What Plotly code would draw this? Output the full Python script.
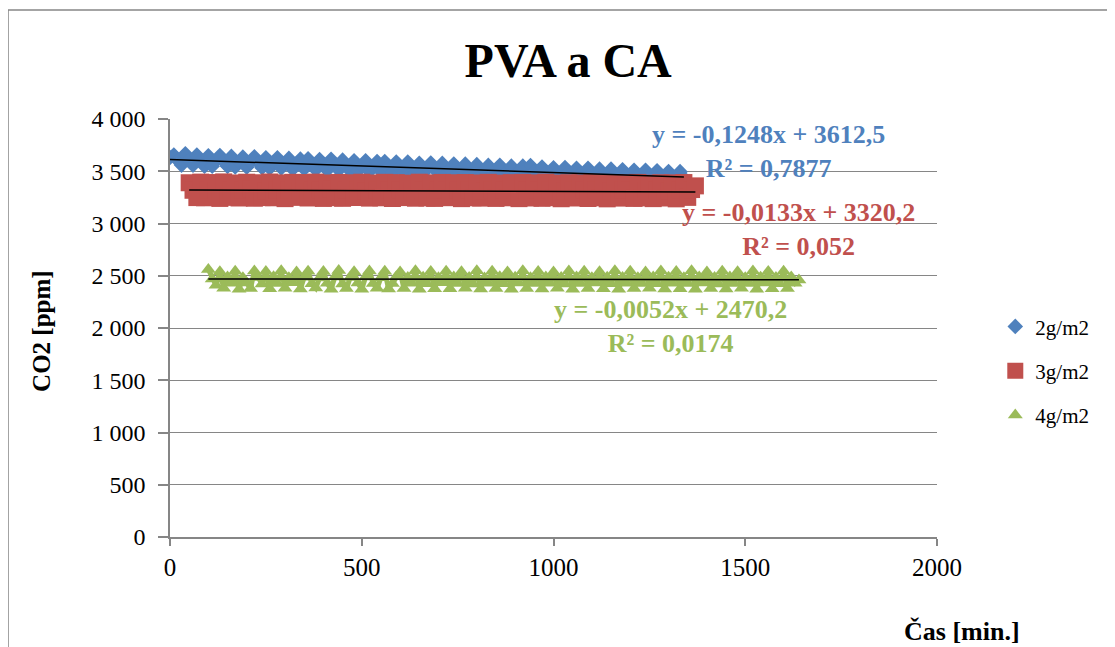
import plotly.graph_objects as go

# ---- data ----
series_names = ["2g/m2", "3g/m2", "4g/m2"]

time_2g = list(range(0, 1341, 10))
co2_2g = [3632, 3656, 3605, 3559, 3667, 3609, 3557, 3656, 3600, 3549,
          3648, 3549, 3603, 3651, 3591, 3547, 3642, 3540, 3590, 3635,
          3539, 3590, 3638, 3581, 3533, 3628, 3528, 3581, 3629, 3530,
          3574, 3623, 3520, 3576, 3616, 3521, 3620, 3564, 3515, 3612,
          3566, 3510, 3614, 3555, 3511, 3606, 3556, 3502, 3600, 3502,
          3554, 3601, 3498, 3543, 3593, 3498, 3594, 3541, 3487, 3588,
          3536, 3488, 3588, 3539, 3482, 3577, 3481, 3531, 3578, 3517,
          3528, 3575, 3471, 3520, 3569, 3469, 3522, 3568, 3467, 3512,
          3563, 3460, 3511, 3556, 3459, 3509, 3558, 3458, 3499, 3549,
          3450, 3501, 3549, 3449, 3555, 3491, 3441, 3540, 3491, 3439,
          3534, 3483, 3436, 3536, 3485, 3430, 3528, 3475, 3431, 3529,
          3475, 3424, 3520, 3469, 3418, 3520, 3471, 3418, 3514, 3463,
          3410, 3509, 3462, 3410, 3510, 3452, 3409, 3504, 3454, 3400,
          3497, 3447, 3400, 3496, 3435]

time_3g = list(range(50, 1371, 10))
co2_3g = [3390, 3318, 3248, 3396, 3246, 3324, 3392, 3316, 3240, 3398,
          3250, 3322, 3388, 3244, 3318, 3395, 3326, 3242, 3390, 3248,
          3315, 3397, 3246, 3320, 3389, 3238, 3324, 3394, 3250, 3316,
          3392, 3244, 3322, 3396, 3318, 3240, 3388, 3326, 3247, 3393,
          3241, 3317, 3390, 3249, 3323, 3395, 3315, 3243, 3388, 3320,
          3246, 3394, 3318, 3239, 3391, 3325, 3248, 3386, 3316, 3242,
          3395, 3322, 3245, 3389, 3240, 3318, 3393, 3324, 3247, 3390,
          3317, 3238, 3392, 3321, 3246, 3388, 3243, 3315, 3394, 3320,
          3240, 3387, 3325, 3246, 3391, 3316, 3238, 3393, 3322, 3244,
          3389, 3318, 3241, 3395, 3320, 3247, 3386, 3237, 3314, 3390,
          3323, 3244, 3388, 3317, 3239, 3392, 3320, 3246, 3385, 3236,
          3314, 3391, 3243, 3321, 3387, 3318, 3240, 3393, 3245, 3316,
          3386, 3238, 3322, 3390, 3244, 3315, 3389, 3236, 3318, 3392,
          3250, 3325, 3360]

time_4g = list(range(100, 1641, 10))
co2_4g = [2560, 2470, 2410, 2538, 2380, 2488, 2428, 2542, 2372, 2482,
          2430, 2378, 2546, 2484, 2422, 2540, 2376, 2490, 2426, 2548,
          2380, 2480, 2432, 2536, 2374, 2486, 2544, 2424, 2382, 2478,
          2541, 2428, 2370, 2489, 2550, 2421, 2377, 2484, 2538, 2430,
          2372, 2487, 2545, 2425, 2380, 2481, 2542, 2374, 2427, 2490,
          2536, 2379, 2483, 2429, 2548, 2371, 2486, 2423, 2540, 2376,
          2480, 2432, 2544, 2375, 2488, 2426, 2539, 2381, 2484, 2421,
          2547, 2373, 2479, 2428, 2543, 2378, 2490, 2424, 2537, 2370,
          2485, 2431, 2549, 2377, 2482, 2425, 2541, 2374, 2487, 2429,
          2535, 2380, 2483, 2422, 2546, 2372, 2489, 2427, 2543, 2379,
          2481, 2430, 2538, 2375, 2486, 2424, 2547, 2371, 2484, 2428,
          2542, 2377, 2480, 2426, 2536, 2381, 2488, 2423, 2545, 2373,
          2485, 2429, 2540, 2376, 2482, 2425, 2548, 2370, 2487, 2431,
          2537, 2378, 2483, 2422, 2544, 2374, 2489, 2427, 2539, 2380,
          2481, 2426, 2546, 2372, 2486, 2430, 2541, 2376, 2484, 2424,
          2543, 2379, 2488, 2428, 2460]

trend_slopes = [-0.1248, -0.0133, -0.0052]
trend_intercepts = [3612.5, 3320.2, 2470.2]
trend_labels = ["y = -0,1248x + 3612,5<br>R² = 0,7877",
                "y = -0,0133x + 3320,2<br>R² = 0,052",
                "y = -0,0052x + 2470,2<br>R² = 0,0174"]
label_pos = [(1560, 3689), (1638, 2947), (1305, 2014)]

x_ticks = [0, 500, 1000, 1500, 2000]
y_ticks = [0, 500, 1000, 1500, 2000, 2500, 3000, 3500, 4000]

# ---- styling ----
colors = ["#4F81BD", "#C0504D", "#9BBB59"]
symbols = ["diamond", "square", "triangle-up"]
sizes = [12, 17, 13]
band_widths = [4, 4, 5]
FONT = "Liberation Serif"
GRID = "#868686"

times = [time_2g, time_3g, time_4g]
values = [co2_2g, co2_3g, co2_4g]

fig = go.Figure()
for i in range(3):
    # dense measurement band (fills the gaps between overlapping markers)
    fig.add_trace(go.Scatter(
        x=times[i], y=values[i], mode="lines", showlegend=False, hoverinfo="skip",
        legendgroup=series_names[i], line=dict(color=colors[i], width=band_widths[i]),
    ))
    fig.add_trace(go.Scatter(
        x=times[i], y=values[i], mode="markers", name=series_names[i],
        legendgroup=series_names[i],
        marker=dict(symbol=symbols[i], size=sizes[i], color=colors[i], line=dict(width=0)),
    ))
for i in range(3):
    x0, x1 = min(times[i]), max(times[i])
    fig.add_trace(go.Scatter(
        x=[x0, x1],
        y=[trend_intercepts[i] + trend_slopes[i] * x0, trend_intercepts[i] + trend_slopes[i] * x1],
        mode="lines", line=dict(color="black", width=1.5), showlegend=False, hoverinfo="skip",
    ))

annotations = []
for i in range(3):
    annotations.append(dict(
        x=label_pos[i][0], y=label_pos[i][1], xref="x", yref="y",
        text="<b>" + trend_labels[i] + "</b>", showarrow=False, align="center",
        xanchor="center", yanchor="middle",
        font=dict(family=FONT, size=26, color=colors[i]),
    ))
annotations.append(dict(
    x=1.0326, y=-0.227, xref="paper", yref="paper", text="<b>Čas [min.]</b>",
    xanchor="center", yanchor="middle",
    showarrow=False, font=dict(family=FONT, size=26, color="black"),
))
annotations.append(dict(
    x=-0.1669, y=0.493, xref="paper", yref="paper", text="<b>CO2 [ppm]</b>",
    xanchor="center", yanchor="middle",
    showarrow=False, textangle=-90, font=dict(family=FONT, size=25, color="black"),
))

fig.update_layout(
    width=1107, height=639,
    margin=dict(l=162, r=178, t=111, b=110),
    paper_bgcolor="white", plot_bgcolor="white",
    separators=", ",
    font=dict(family=FONT, size=22, color="black"),
    title=dict(text="<b>PVA a CA</b>", x=0.506, xref="container", xanchor="center",
               y=0.918, yref="container", yanchor="middle",
               font=dict(family=FONT, size=48, color="black")),
    showlegend=True,
    legend=dict(x=1.076, xanchor="left", y=0.552, yanchor="top",
                font=dict(family=FONT, size=21, color="black"),
                traceorder="grouped", tracegroupgap=14, bgcolor="rgba(0,0,0,0)"),
    annotations=annotations,
    shapes=[
        dict(type="line", xref="paper", yref="paper", x0=-0.2112, x1=1.3, y0=1.2608, y1=1.2608,
             line=dict(color=GRID, width=1.5)),
        dict(type="line", xref="paper", yref="paper", x0=-0.2112, x1=-0.2112, y0=1.2608, y1=-0.3,
             line=dict(color=GRID, width=1.5)),
    ],
)
fig.update_xaxes(range=[0, 2000], tickvals=x_ticks, tickformat="d", showgrid=False,
                 zeroline=False, showline=True, linecolor=GRID, linewidth=1.5,
                 ticks="outside", ticklen=7, tickcolor=GRID, tickwidth=1.5,
                 ticklabelstandoff=0, tickfont=dict(family=FONT, size=25, color="black"))
fig.update_yaxes(range=[0, 4000], tickvals=y_ticks, tickformat=",d", showgrid=True,
                 gridcolor=GRID, gridwidth=1.2, zeroline=False, showline=True,
                 linecolor=GRID, linewidth=1.5, ticks="outside", ticklen=10,
                 tickcolor=GRID, tickwidth=1.5, ticklabelstandoff=8,
                 tickfont=dict(family=FONT, size=24, color="black"))

fig.write_html("out.html")
